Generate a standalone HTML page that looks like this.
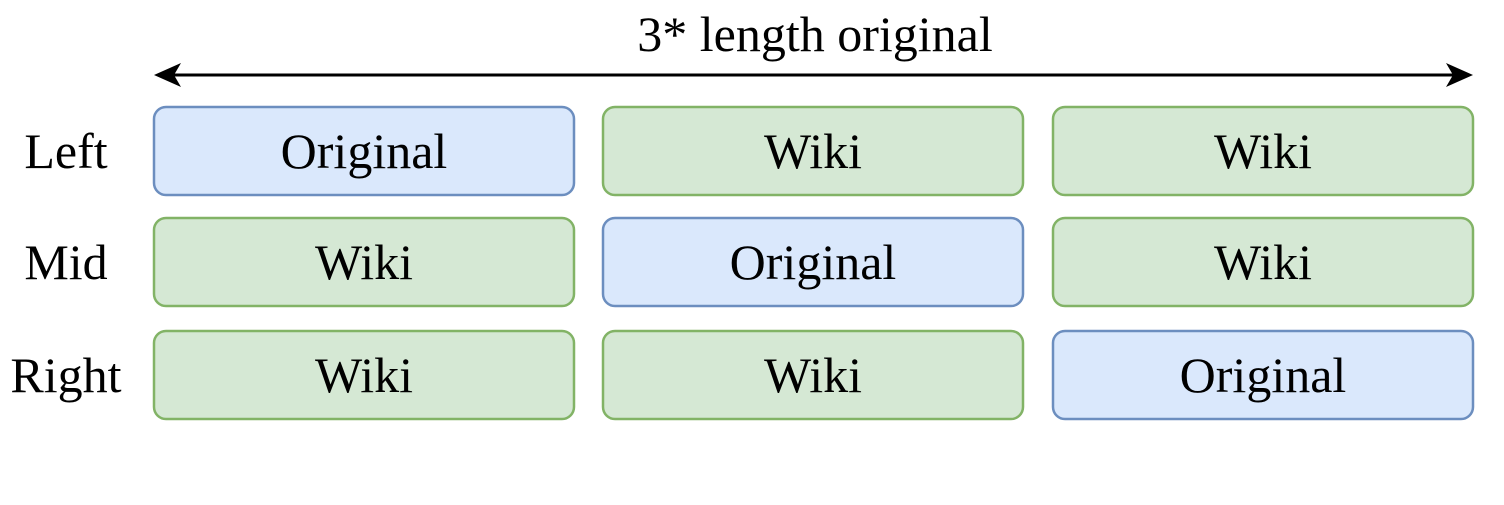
<!DOCTYPE html>
<html><head><style>html,body{margin:0;padding:0;background:#fff;}</style></head>
<body>
<svg width="1504" height="500" xmlns="http://www.w3.org/2000/svg" font-family="'Liberation Serif', 'Times New Roman', serif" font-size="50">
<text x="815" y="51" text-anchor="middle">3* length original</text>
<line x1="170" y1="75" x2="1458" y2="75" stroke="#000" stroke-width="3"/>
<path d="M154,75 L181,63 L174,75 L181,87 Z" fill="#000"/>
<path d="M1473,75 L1446,63 L1453,75 L1446,87 Z" fill="#000"/>
<g stroke-width="2.5">
<rect x="154" y="107" width="420" height="88" rx="12" fill="#dae8fc" stroke="#6c8ebf"/>
<rect x="603" y="107" width="420" height="88" rx="12" fill="#d5e8d4" stroke="#82b366"/>
<rect x="1053" y="107" width="420" height="88" rx="12" fill="#d5e8d4" stroke="#82b366"/>
<rect x="154" y="218" width="420" height="88" rx="12" fill="#d5e8d4" stroke="#82b366"/>
<rect x="603" y="218" width="420" height="88" rx="12" fill="#dae8fc" stroke="#6c8ebf"/>
<rect x="1053" y="218" width="420" height="88" rx="12" fill="#d5e8d4" stroke="#82b366"/>
<rect x="154" y="331" width="420" height="88" rx="12" fill="#d5e8d4" stroke="#82b366"/>
<rect x="603" y="331" width="420" height="88" rx="12" fill="#d5e8d4" stroke="#82b366"/>
<rect x="1053" y="331" width="420" height="88" rx="12" fill="#dae8fc" stroke="#6c8ebf"/>
</g>
<g text-anchor="middle">
<text x="66" y="168">Left</text>
<text x="66" y="279">Mid</text>
<text x="66" y="392">Right</text>
<text x="364" y="168">Original</text>
<text x="813" y="168">Wiki</text>
<text x="1263" y="168">Wiki</text>
<text x="364" y="279">Wiki</text>
<text x="813" y="279">Original</text>
<text x="1263" y="279">Wiki</text>
<text x="364" y="392">Wiki</text>
<text x="813" y="392">Wiki</text>
<text x="1263" y="392">Original</text>
</g>
</svg>
</body></html>
